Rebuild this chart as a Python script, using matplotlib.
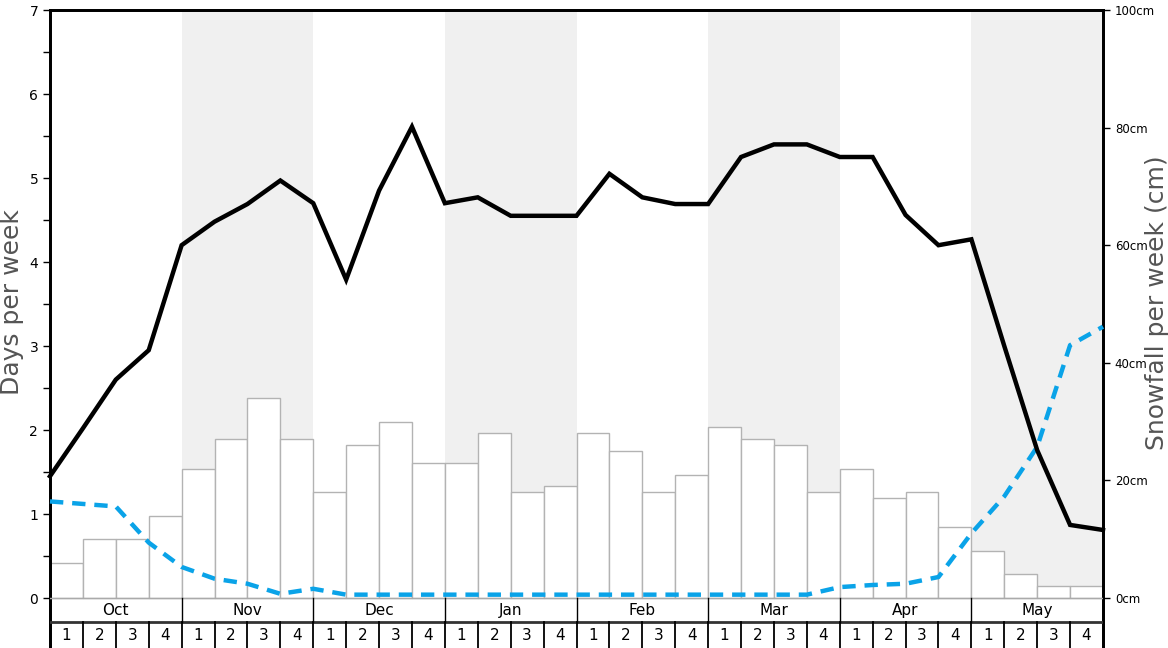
import matplotlib
matplotlib.use("Agg")
import matplotlib.pyplot as plt
from matplotlib.ticker import FixedLocator

# weekly climate data, Oct week 1 .. May week 4
months = ['Oct', 'Nov', 'Dec', 'Jan', 'Feb', 'Mar', 'Apr', 'May']
weeks = ['1', '2', '3', '4']
shaded_months = ['Nov', 'Jan', 'Mar', 'May']

# snowfall per week (cm), one bar per week
snowfall_cm = [6, 10, 10, 14, 22, 27, 34, 27,
               18, 26, 30, 23, 23, 28, 18, 19,
               28, 25, 18, 21, 29, 27, 26, 18,
               22, 17, 18, 12, 8, 4, 2, 2]

# days per week, values at week boundaries (33 points)
snow_days = [1.45, 2.02, 2.6, 2.95, 4.2, 4.48, 4.69, 4.97, 4.7, 3.79, 4.85,
             5.61, 4.7, 4.77, 4.55, 4.55, 4.55, 5.05, 4.77, 4.69, 4.69, 5.25,
             5.4, 5.4, 5.25, 5.25, 4.56, 4.2, 4.27, 3.0, 1.76, 0.87, 0.81]
rain_days = [1.15, 1.12, 1.09, 0.66, 0.37, 0.23, 0.17, 0.05, 0.11, 0.04, 0.04,
             0.04, 0.04, 0.04, 0.04, 0.04, 0.04, 0.04, 0.04, 0.04, 0.04, 0.04,
             0.04, 0.04, 0.13, 0.155, 0.17, 0.25, 0.77, 1.21, 1.80, 3.01, 3.23]

n_weeks = len(months) * len(weeks)
y_bottom = -0.595          # bottom of table area (days)
y_row = -0.286             # border between month row and week row
cm_max = 100
cm_bottom = y_bottom * cm_max / 7.0

fig = plt.figure(figsize=(11.68, 6.48), dpi=100)
ax = fig.add_axes([50 / 1168, 0, 1053 / 1168, 638 / 648])
ax2 = ax.twinx()

# snowfall bars + month shading on the right (cm) axis, behind the lines
for i, m in enumerate(months):
    if m in shaded_months:
        x0 = i * 4
        ax2.fill_between([x0, x0 + 4], 0, cm_max, color='#f0f0f0', lw=0, zorder=0)
xs = [i + 0.5 for i in range(n_weeks)]
ax2.bar(xs, snowfall_cm, width=1.0, color='white', edgecolor='#b3b3b3',
        linewidth=1, zorder=2)
ax2.set_ylim(cm_bottom, cm_max)
ax2.yaxis.set_major_locator(FixedLocator([0, 20, 40, 60, 80, 100]))
ax2.set_yticklabels([f'{v}cm' for v in [0, 20, 40, 60, 80, 100]])
ax2.tick_params(axis='y', labelsize=8.5, length=5, width=1, colors='black')

ax.set_zorder(ax2.get_zorder() + 1)
ax.patch.set_visible(False)

xb = list(range(n_weeks + 1))
ax.plot(xb, rain_days, color='#0aa3e8', lw=3.2, linestyle=(0, (3, 2)),
        zorder=4, clip_on=False)
ax.plot(xb, snow_days, color='black', lw=3.2, solid_joinstyle='miter',
        zorder=5, clip_on=False)

# table under the plot: month row and week row
ax.axhline(0, color='#aaaaaa', lw=1, zorder=3)
ax.axhline(y_row, color='#333333', lw=2, zorder=3)
for i, m in enumerate(months):
    ax.text(i * 4 + 2, y_row / 2, m, ha='center', va='center', fontsize=11)
    if i > 0:
        ax.plot([i * 4, i * 4], [0, y_row], color='black', lw=1, zorder=3)
for k in range(n_weeks):
    ax.text(k + 0.5, (y_row + y_bottom) / 2 - 0.01, weeks[k % 4],
            ha='center', va='center', fontsize=11)
    if k > 0:
        ax.plot([k, k], [y_row, y_bottom], color='black', lw=1.3, zorder=3)

ax.set_xlim(0, n_weeks)
ax.set_ylim(y_bottom, 7)
ax.set_xticks([])
ax.yaxis.set_major_locator(FixedLocator(range(0, 8)))
ax.yaxis.set_minor_locator(FixedLocator([v + 0.5 for v in range(7)]))
ax.tick_params(axis='y', which='major', labelsize=10, length=5, width=1)
ax.tick_params(axis='y', which='minor', length=5, width=1)

for a in (ax, ax2):
    a.spines['bottom'].set_visible(False)
    for s in ('top', 'left', 'right'):
        a.spines[s].set_linewidth(2)
        a.spines[s].set_color('black')

fig.text(12 / 1168, 1 - 302 / 648, 'Days per week', rotation=90,
         ha='center', va='center', fontsize=18, color='#555555')
fig.text(1157 / 1168, 1 - 303 / 648, 'Snowfall per week (cm)', rotation=90,
         ha='center', va='center', fontsize=18, color='#555555')

fig.savefig('out.png', dpi=100)
